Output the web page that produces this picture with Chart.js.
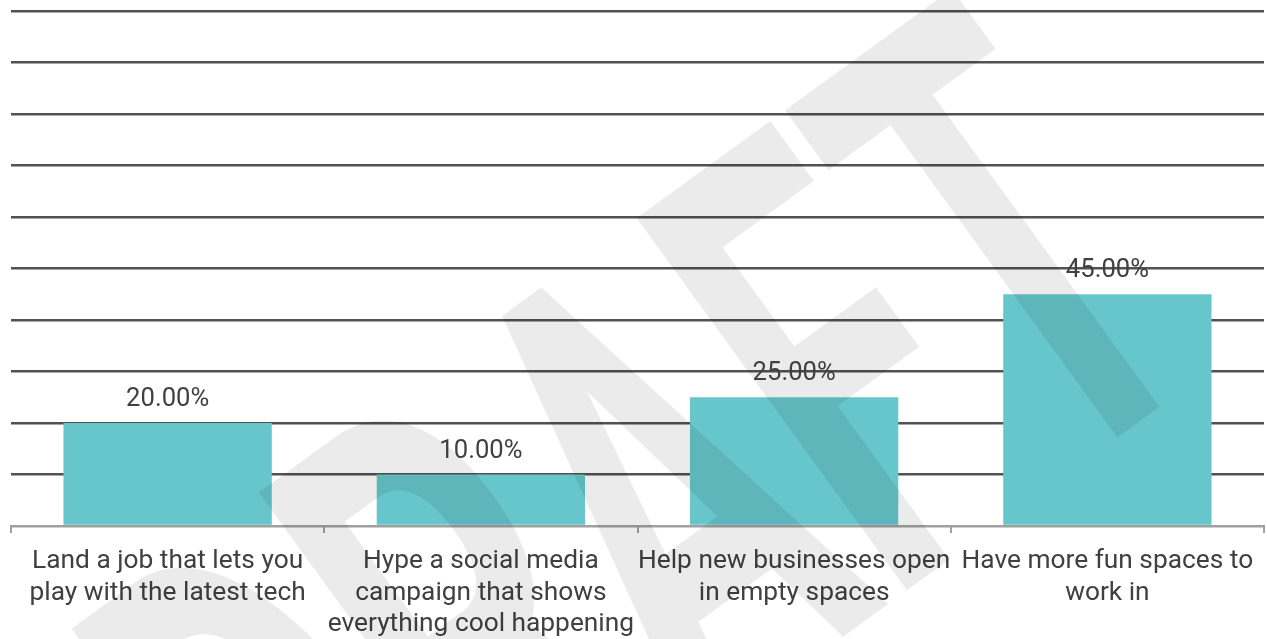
<!DOCTYPE html>
<html>
<head>
<meta charset="utf-8">
<script src="https://cdn.jsdelivr.net/npm/chart.js@4.4.1/dist/chart.umd.min.js"></script>
<style>
  html, body { margin: 0; padding: 0; background: #fff; }
  #wrap { width: 1267px; height: 639px; position: relative; }
</style>
</head>
<body>
<div id="wrap"><canvas id="chartGoals"></canvas></div>
<script>
const BAR = "#67c6cb", INK = "#404040", GRIDLINE = "#515151", AXIS = "#a0a0a0";

// answers, wrapped the way they appear under each bar
const goals = [
  ["Land a job that lets you", "play with the latest tech"],
  ["Hype a social media", "campaign that shows", "everything cool happening"],
  ["Help new businesses open", "in empty spaces"],
  ["Have more fun spaces to", "work in"],
];
const shares = [20, 10, 25, 45];
const yRange = [0, 100];
const yStep = 10;
const stamp = "DRAFT";

// value labels above each bar, with the grey stamp painted over the bars first
const barLabels = {
  id: "barLabels",
  afterDatasetsDraw(chart) {
    const {ctx, width, height} = chart;
    ctx.save();
    ctx.beginPath();
    ctx.rect(0, 0, width, height);
    ctx.clip();
    ctx.translate(1228, 357);
    ctx.rotate(-36 * Math.PI / 180);
    ctx.scale(0.55, 1);
    ctx.font = "bold 647px Roboto";
    ctx.fillStyle = "rgba(0,0,0,0.078)";
    ctx.textAlign = "right";
    ctx.textBaseline = "alphabetic";
    ctx.fillText(stamp, 0, 0);
    ctx.restore();

    ctx.save();
    ctx.font = "25.6px Roboto";
    ctx.fillStyle = INK;
    ctx.textAlign = "center";
    ctx.textBaseline = "alphabetic";
    chart.getDatasetMeta(0).data.forEach((bar, i) => {
      ctx.fillText(shares[i].toFixed(2) + "%", bar.x, bar.y - 17);
    });
    ctx.restore();
  }
};

Chart.defaults.font.family = "Roboto";
Chart.defaults.color = INK;

new Chart(document.getElementById("chartGoals"), {
  type: "bar",
  data: {
    labels: goals,
    datasets: [{
      data: shares,
      backgroundColor: BAR,
      borderWidth: 0,
      barPercentage: 0.665,
      categoryPercentage: 1,
    }],
  },
  options: {
    responsive: true,
    maintainAspectRatio: false,
    animation: false,
    layout: {padding: {left: 11, right: 3, top: 11, bottom: 0}},
    plugins: {legend: {display: false}, tooltip: {enabled: false}},
    scales: {
      x: {
        // fixed band for the wrapped answers below the axis
        afterFit(scale) { scale.height = 113; },
        grid: {display: true, drawOnChartArea: false, drawTicks: true, tickLength: 7, color: AXIS, lineWidth: 2, offset: true},
        border: {display: true, color: AXIS, width: 2},
        ticks: {
          color: INK,
          padding: 13,
          maxRotation: 0,
          autoSkip: false,
          font: {size: 26.3, lineHeight: 1.2},
        },
      },
      y: {
        min: yRange[0],
        max: yRange[1],
        grid: {
          drawTicks: false,
          lineWidth: 2.4,
          color: c => c.tick && c.tick.value === yRange[0] ? AXIS : GRIDLINE,
        },
        border: {display: false},
        ticks: {display: false, stepSize: yStep},
      },
    },
  },
  plugins: [barLabels],
});
</script>
</body>
</html>
